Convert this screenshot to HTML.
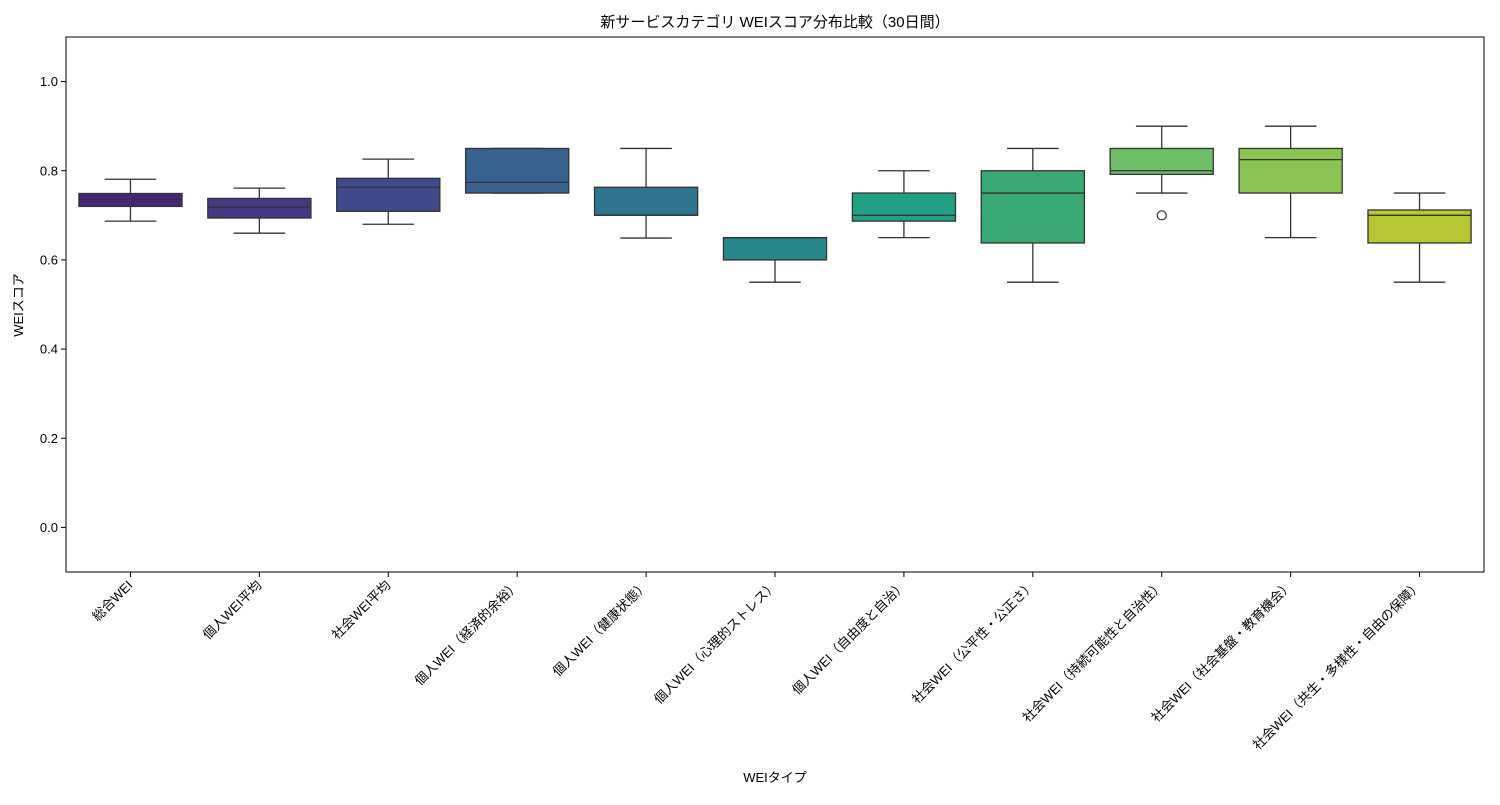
<!DOCTYPE html>
<html><head><meta charset="utf-8">
<style>
body{margin:0;background:#fff;}
svg text{font-family:"Liberation Sans","Noto Sans CJK JP",sans-serif;fill:#000;}
</style></head>
<body>
<svg id="chart" width="1500" height="800" xmlns="http://www.w3.org/2000/svg">
<text x="775" y="27" text-anchor="middle" font-size="15">新サービスカテゴリ WEIスコア分布比較（30日間）</text>
<g id="plot"></g>
<rect x="66" y="37" width="1418" height="535" fill="none" stroke="#000" stroke-width="1"/>
<text transform="translate(23,305) rotate(-90)" text-anchor="middle" font-size="13">WEIスコア</text>
<text x="775" y="782" text-anchor="middle" font-size="13">WEIタイプ</text>
</svg>
<script>
const categories=["総合WEI","個人WEI平均","社会WEI平均","個人WEI（経済的余裕）","個人WEI（健康状態）","個人WEI（心理的ストレス）","個人WEI（自由度と自治）","社会WEI（公平性・公正さ）","社会WEI（持続可能性と自治性）","社会WEI（社会基盤・教育機会）","社会WEI（共生・多様性・自由の保障）"];
const whiskerLow=[0.687,0.66,0.68,0.75,0.649,0.55,0.65,0.55,0.75,0.65,0.55];
const q1=[0.720,0.694,0.709,0.75,0.70,0.60,0.687,0.638,0.792,0.75,0.638];
const median=[0.736,0.718,0.763,0.774,0.70,0.65,0.70,0.75,0.80,0.825,0.70];
const q3=[0.749,0.738,0.783,0.85,0.763,0.65,0.75,0.80,0.85,0.85,0.712];
const whiskerHigh=[0.781,0.761,0.826,0.85,0.85,0.65,0.80,0.85,0.90,0.90,0.75];
const outliers=[[],[],[],[],[],[],[],[],[0.70],[],[]];
const yTicks=[0.0,0.2,0.4,0.6,0.8,1.0];
const colors=["#482576","#443983","#3f4b8a","#36628d","#2f748e","#28878c","#22a085","#3aaa75","#6cbe67","#8bc553","#b6c733"];
const NS="http://www.w3.org/2000/svg";
const x0=66,x1=1484,y0=37,y1=572,vmin=-0.1,vmax=1.1;
const ys=v=>y1-(v-vmin)/(vmax-vmin)*(y1-y0);
const step=(x1-x0)/categories.length;
const xs=i=>x0+step*(i+0.5);
const svg=document.getElementById('chart'),g=document.getElementById('plot');
function mk(t,a,p){const e=document.createElementNS(NS,t);for(const k in a)e.setAttribute(k,a[k]);(p||g).appendChild(e);return e;}
yTicks.forEach(v=>{
 const y=ys(v);
 const l=mk('line',{x1:x0-5,x2:x0,y1:y,y2:y,stroke:'#000'});
 
 
 const t=mk('text',{x:x0-8,y:y+4.5,'text-anchor':'end','font-size':'13'});
 
 
 t.textContent=v.toFixed(1);
});
const bw=step*0.8;
categories.forEach((c,i)=>{
 const x=xs(i);
 const box=mk('g',{});
 
 
 mk('line',{x1:x,x2:x,y1:ys(whiskerHigh[i]),y2:ys(q3[i]),stroke:'#333','stroke-width':1.3},box);
 mk('line',{x1:x,x2:x,y1:ys(q1[i]),y2:ys(whiskerLow[i]),stroke:'#333','stroke-width':1.3},box);
 mk('line',{x1:x-bw/4,x2:x+bw/4,y1:ys(whiskerHigh[i]),y2:ys(whiskerHigh[i]),stroke:'#333','stroke-width':1.3},box);
 mk('line',{x1:x-bw/4,x2:x+bw/4,y1:ys(whiskerLow[i]),y2:ys(whiskerLow[i]),stroke:'#333','stroke-width':1.3},box);
 mk('rect',{x:x-bw/2,y:ys(q3[i]),width:bw,height:Math.max(0.5,ys(q1[i])-ys(q3[i])),fill:colors[i],stroke:'#333','stroke-width':1.3},box);
 mk('line',{x1:x-bw/2,x2:x+bw/2,y1:ys(median[i]),y2:ys(median[i]),stroke:'#333','stroke-width':1.3},box);
 outliers[i].forEach(o=>{
  const p=mk('circle',{cx:x,cy:ys(o),r:4.5,fill:'none',stroke:'#333','stroke-width':1.2},box);
  
  
 });
 const tk=mk('line',{x1:x,x2:x,y1:y1,y2:y1+5,stroke:'#000'});
 
 
 const t=mk('text',{transform:`translate(${x+3},${y1+14}) rotate(-45)`,'text-anchor':'end','font-size':'13'});
 
 
 t.textContent=c;
});
</script>
</body></html>
